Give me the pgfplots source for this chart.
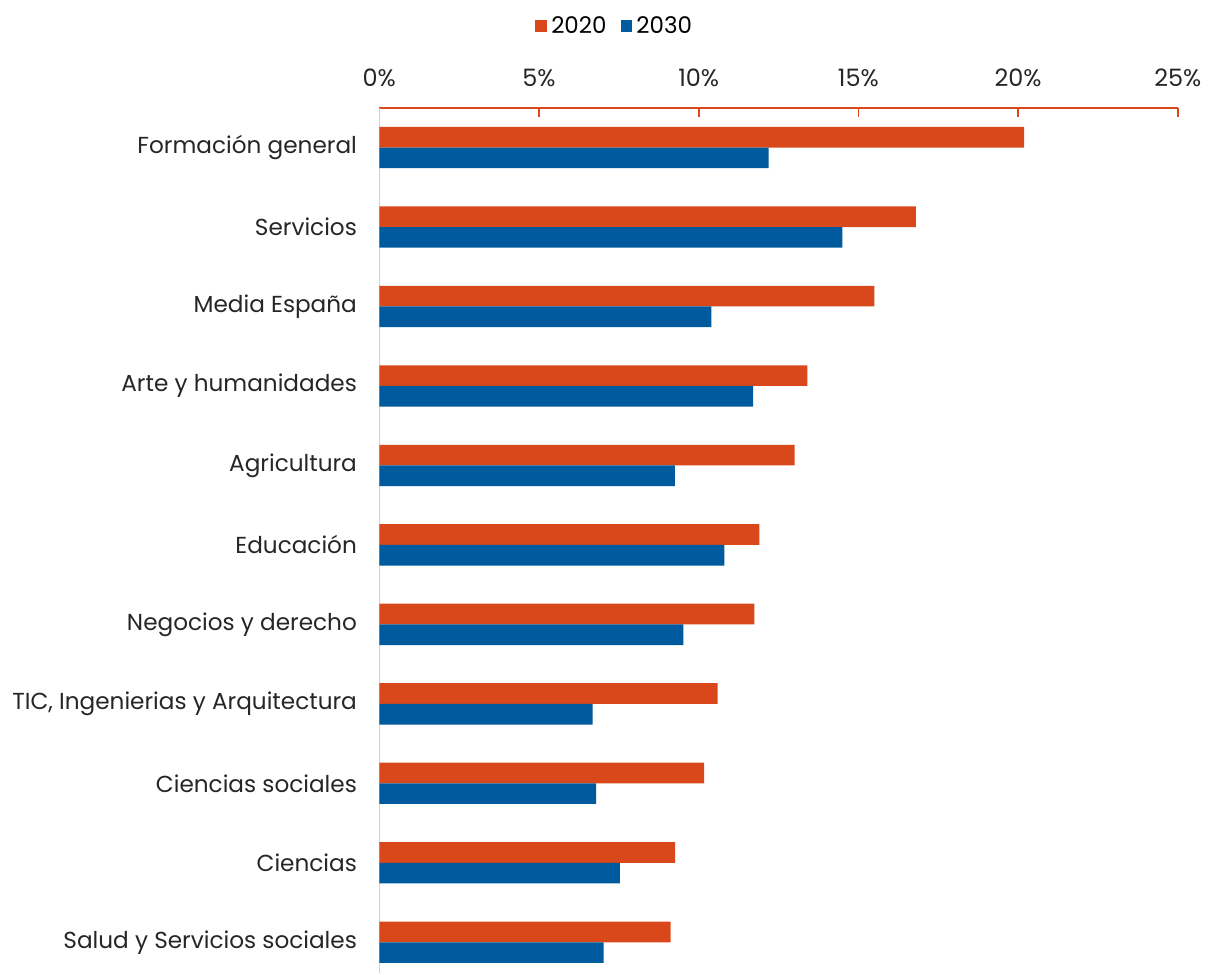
\documentclass[border=0pt]{standalone}
\usepackage{fontspec}
\setmainfont{Poppins}
\usepackage{pgfplots}
\pgfplotsset{compat=1.18}
\definecolor{c2020}{HTML}{D9481B}
\definecolor{c2030}{HTML}{005A9E}
\begin{document}
\begin{tikzpicture}
\begin{axis}[
  width=400pt, height=433.5pt, scale only axis,
  xbar=0pt, bar width=10.35pt,
  xmin=0, xmax=25, ymin=-0.5, ymax=10.39,
  y dir=reverse,
  axis x line*=top, axis y line*=left,
  x axis line style={c2020, line width=0.8pt, -},
  y axis line style={black!18, line width=0.8pt, -},
  xtick={0,5,10,15,20,25},
  xticklabel={\pgfmathprintnumber{\tick}\%},
  /pgf/number format/assume math mode=true,
  xtick style={c2020, line width=0.8pt},
  tick align=inside, major tick length=4.5pt,
  ytick={0,...,10},
  ytick style={draw=none},
  yticklabels={Formación general, Servicios, Media España, Arte y humanidades, Agricultura, Educación, Negocios y derecho, {TIC, Ingenierias y Arquitectura}, Ciencias sociales, Ciencias, Salud y Servicios sociales},
  yticklabel style={font=\fontsize{11.6}{14}\selectfont, text=black!85, xshift=-7.7pt},
  xticklabel style={font=\fontsize{12}{14}\selectfont, text=black!85, yshift=7pt},
  legend style={draw=none, legend columns=2, at={(axis description cs:0.296,1.094)}, anchor=center,
    font=\fontsize{11.5}{14}\selectfont, /tikz/every even column/.append style={column sep=5pt}},
  legend image code/.code={\fill[#1,draw=none] (0pt,-3pt) rectangle (6pt,3pt);},
]
\addplot[fill=c2020, draw=none, bar shift=5.175pt] coordinates {(20.19,0) (16.8,1) (15.5,2) (13.4,3) (13.0,4) (11.9,5) (11.74,6) (10.59,7) (10.17,8) (9.26,9) (9.12,10)};
\addplot[fill=c2030, draw=none, bar shift=-5.175pt] coordinates {(12.19,0) (14.5,1) (10.4,2) (11.7,3) (9.25,4) (10.8,5) (9.52,6) (6.68,7) (6.79,8) (7.53,9) (7.02,10)};
\legend{2020,2030}
\end{axis}
\path ([yshift=54pt]current axis.north west);
\path ([xshift=-190pt]current axis.north west);
\end{tikzpicture}
\end{document}
